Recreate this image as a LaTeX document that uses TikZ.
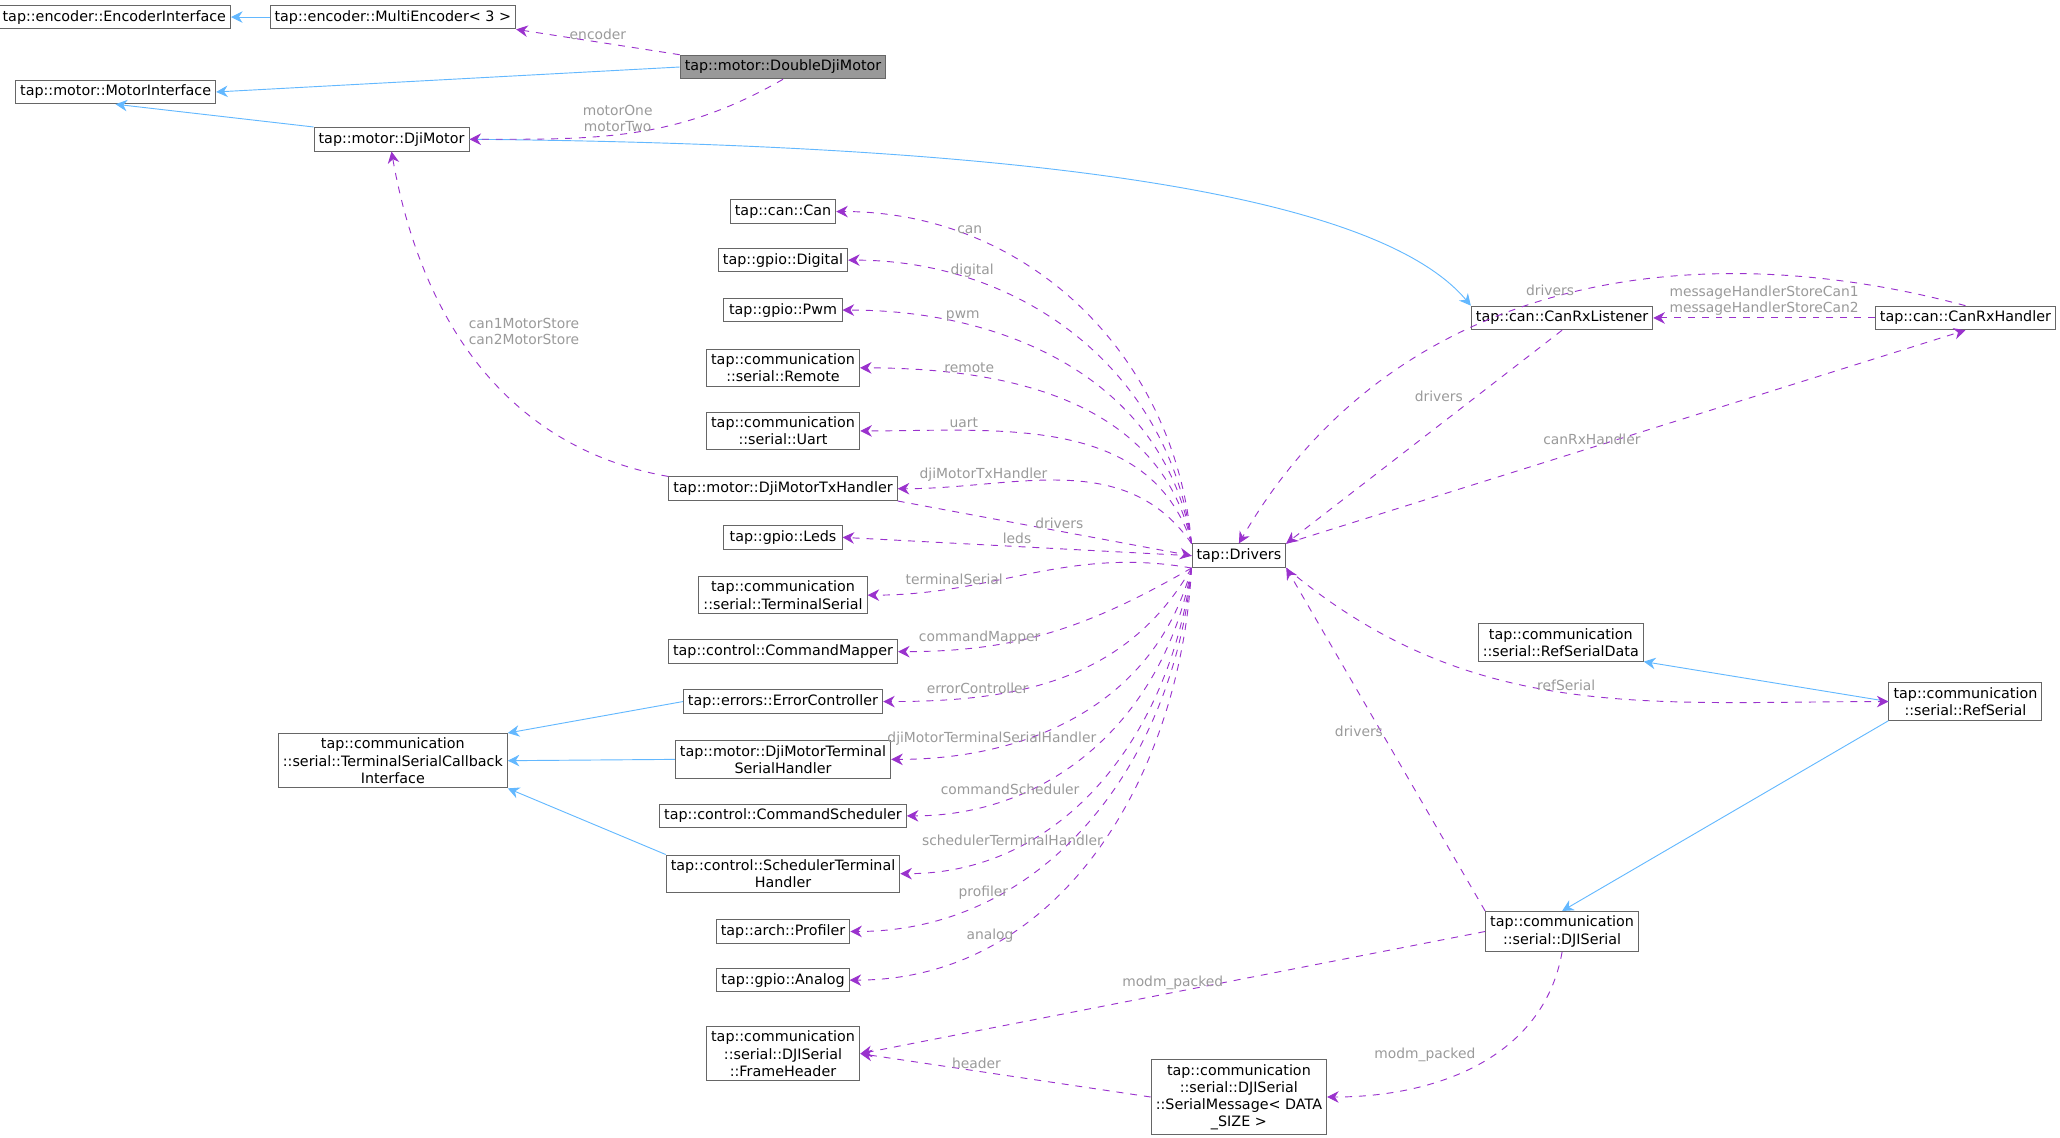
\documentclass[tikz,border=0pt]{standalone}
\usepackage{fontspec}
\setmainfont{DejaVu Sans}
\usetikzlibrary{arrows.meta,positioning}
\definecolor{inh}{HTML}{63B8FF}
\definecolor{use}{HTML}{9A32CD}
\definecolor{lbl}{HTML}{9A9A9A}
\tikzset{
  cls/.style={draw=black!60, fill=white, font=\fontsize{6.2}{7.4}\selectfont, inner sep=2pt, minimum height=0.36cm, align=center},
  inherit/.style={draw=inh, -{Stealth[length=5pt,width=5pt]}},
  member/.style={draw=use, dashed, -{Stealth[length=5pt,width=5pt]}},
  lab/.style={text=lbl, font=\fontsize{6}{7}\selectfont, align=center, inner sep=1pt}
}
\begin{document}
\begin{tikzpicture}[x=0.02cm, y=-0.02cm]
	\useasboundingbox (0,0) rectangle (1568,866);
	
	% classes
	\node [cls] (encif) at (87,13) {tap::encoder::EncoderInterface};
	\node [cls] (multienc) at (299,13) {tap::encoder::MultiEncoder< 3 >};
	\node [cls, fill=black!40] (ddm) at (596,51) {tap::motor::DoubleDjiMotor};
	\node [cls] (motif) at (88,70) {tap::motor::MotorInterface};
	\node [cls, minimum width=2.34cm] (dm) at (298,106) {tap::motor::DjiMotor};
	\node [cls] (can) at (596,161) {tap::can::Can};
	\node [cls] (digital) at (596,198) {tap::gpio::Digital};
	\node [cls, minimum width=1.8cm] (pwm) at (596,236) {tap::gpio::Pwm};
	\node [cls] (remote) at (596,280) {tap::communication\\::serial::Remote};
	\node [cls, minimum width=2.34cm] (uart) at (596,328) {tap::communication\\::serial::Uart};
	\node [cls] (txh) at (596,372) {tap::motor::DjiMotorTxHandler};
	\node [cls, minimum width=1.8cm] (leds) at (596,409) {tap::gpio::Leds};
	\node [cls] (tser) at (596,453) {tap::communication\\::serial::TerminalSerial};
	\node [cls] (cmap) at (596,496) {tap::control::CommandMapper};
	\node [cls] (errc) at (596,534) {tap::errors::ErrorController};
	\node [cls] (dmtsh) at (596,578) {tap::motor::DjiMotorTerminal\\SerialHandler};
	\node [cls] (csched) at (596,621) {tap::control::CommandScheduler};
	\node [cls] (stermh) at (596,665) {tap::control::SchedulerTerminal\\Handler};
	\node [cls, minimum width=2cm] (prof) at (596,709) {tap::arch::Profiler};
	\node [cls, minimum width=2cm] (analog) at (596,746) {tap::gpio::Analog};
	\node [cls, minimum width=2.34cm] (fhdr) at (596,802) {tap::communication\\::serial::DJISerial\\::FrameHeader};
	\node [cls, minimum width=3.4cm] (tscb) at (299,579) {tap::communication\\::serial::TerminalSerialCallback\\Interface};
	\node [cls] (drv) at (943,423) {tap::Drivers};
	\node [cls] (crl) at (1189,242) {tap::can::CanRxListener};
	\node [cls] (crh) at (1496,242) {tap::can::CanRxHandler};
	\node [cls] (rsd) at (1188,489) {tap::communication\\::serial::RefSerialData};
	\node [cls] (rs) at (1496,534) {tap::communication\\::serial::RefSerial};
	\node [cls, minimum width=2.32cm] (djis) at (1189,709) {tap::communication\\::serial::DJISerial};
	\node [cls] (smsg) at (943,835) {tap::communication\\::serial::DJISerial\\::SerialMessage< DATA\\\_SIZE >};
	
	% inheritance
	\draw [inherit] (multienc) -- (encif);
	\draw [inherit] (ddm.west) -- (motif.east);
	\draw [inherit] (dm.north west) -- (motif.south);
	\draw [inherit] (dm.east) .. controls (800,110) and (1050,150) .. (crl.north west);
	\draw [inherit] (errc.west) -- (tscb.north east);
	\draw [inherit] (dmtsh.west) -- (tscb.east);
	\draw [inherit] (stermh.north west) -- (tscb.south east);
	\draw [inherit] (rs.west) -- (rsd.south east);
	\draw [inherit] (rs.south west) -- (djis.north);
	
	% members
	\draw [member] (ddm.north west) -- node [lab, above] {encoder} (multienc.south east);
	\draw [member] (ddm.south) to[out=-150, in=0] node [lab, above, pos=0.55] {motorOne\\motorTwo} (dm.east);
	\draw [member] (txh.north west) to[out=170, in=-80] node [lab, pos=0.55, above right] {can1MotorStore\\can2MotorStore} (dm.south);
	\foreach \m/\l/\o in {can/can/95, digital/digital/97, pwm/pwm/99, remote/remote/102, uart/uart/108, txh/djiMotorTxHandler/125}
		\draw [member] (drv.north west) to[out=\o, in=0] node [lab, above, pos=0.75] {\l} (\m.east);
	\draw [member] (drv.west) -- node [lab, above, pos=0.5] {leds} (leds.east);
	\foreach \m/\l/\o in {tser/terminalSerial/170, cmap/commandMapper/-150, errc/errorController/-120, dmtsh/djiMotorTerminalSerialHandler/-105, csched/commandScheduler/-100, stermh/schedulerTerminalHandler/-97, prof/profiler/-95, analog/analog/-93}
		\draw [member] (drv.south west) to[out=\o, in=0] node [lab, above, pos=0.75] {\l} (\m.east);
	\draw [member] (txh.south east) -- node [lab, above, pos=0.55] {drivers} (drv.west);
	\draw [member] (crl.south) -- node [lab, above left, pos=0.35] {drivers} (drv.north east);
	\draw [member] (crh.north) to[out=165, in=60] node [lab, above, pos=0.5] {drivers} (drv.north);
	\draw [member] (drv.north east) -- node [lab, above, pos=0.45] {canRxHandler} (crh.south);
	\draw [member] (crh.west) -- node [lab, above] {messageHandlerStoreCan1\\messageHandlerStoreCan2} (crl.east);
	\draw [member] (drv.south east) to[out=-40, in=180] node [lab, above, pos=0.5] {refSerial} (rs.west);
	\draw [member] (djis.north west) -- node [lab, above left, pos=0.5] {drivers} (drv.south east);
	\draw [member] (djis.south) to[out=-100, in=0] node [lab, above left, pos=0.5] {modm\_packed} (smsg.east);
	\draw [member] (djis.west) -- node [lab, above, pos=0.5] {modm\_packed} (fhdr.east);
	\draw [member] (smsg.west) -- node [lab, above, pos=0.6] {header} (fhdr.east);
\end{tikzpicture}
\end{document}
